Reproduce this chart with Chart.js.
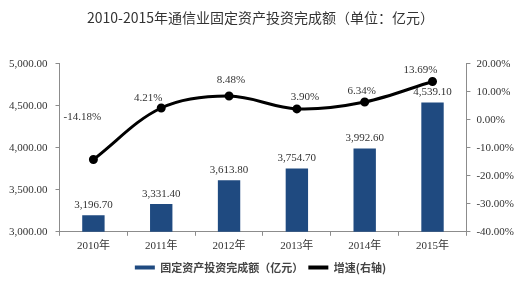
<!DOCTYPE html>
<html>
<head>
<meta charset="utf-8">
<script src="https://cdn.jsdelivr.net/npm/chart.js@4"></script>
<style>
  html, body { margin: 0; padding: 0; background: #fff; }
  #wrap { width: 529px; height: 283px; }
</style>
</head>
<body>
<div id="wrap"><canvas id="c" width="529" height="283"></canvas></div>
<script>
// 数据
var years = ['2010年', '2011年', '2012年', '2013年', '2014年', '2015年'];
var invest = [3196.7, 3331.4, 3613.8, 3754.7, 3992.6, 4539.1];
var growth = [-14.18, 4.21, 8.48, 3.90, 6.34, 13.69];
var leftTicks = [3000, 3500, 4000, 4500, 5000];
var rightTicks = [-40, -30, -20, -10, 0, 10, 20];

var tickFont = { family: "'Liberation Serif', 'Noto Sans CJK SC'", size: 11 };
var axisColor = '#8c8c8c';

function money(v) {
  return v.toLocaleString('en-US', { minimumFractionDigits: 2, maximumFractionDigits: 2 });
}

// 数值标签
var valueLabels = {
  id: 'valueLabels',
  afterDatasetsDraw: function (chart) {
    var ctx = chart.ctx;
    ctx.save();
    ctx.font = "11px 'Liberation Serif'";
    ctx.fillStyle = '#333';
    ctx.textAlign = 'center';
    ctx.textBaseline = 'middle';
    chart.getDatasetMeta(0).data.forEach(function (bar, i) {
      ctx.fillText(money(invest[i]), bar.x, bar.y - 10);
    });
    var shift = [[-11, -42], [-13, -10], [2, -16], [8, -12], [-3, -11], [-12, -11]];
    chart.getDatasetMeta(1).data.forEach(function (pt, i) {
      ctx.fillText(growth[i].toFixed(2) + '%', pt.x + shift[i][0], pt.y + shift[i][1]);
    });
    ctx.restore();
  }
};

new Chart(document.getElementById('c'), {
  type: 'bar',
  data: {
    labels: years,
    datasets: [{
      label: '固定资产投资完成额（亿元）',
      data: invest,
      backgroundColor: '#1f4a80',
      borderWidth: 0,
      barPercentage: 0.33,
      categoryPercentage: 1,
      yAxisID: 'y',
      order: 1
    }, {
      type: 'line',
      label: '增速(右轴)',
      data: growth,
      borderColor: '#000',
      backgroundColor: '#000',
      borderWidth: 3,
      pointRadius: 3,
      pointBackgroundColor: '#000',
      tension: 0.35,
      yAxisID: 'y1',
      order: 0
    }]
  },
  options: {
    responsive: false,
    animation: false,
    layout: { padding: { left: 1, right: 9, top: 0, bottom: 0 } },
    plugins: {
      title: {
        display: true,
        text: '2010-2015年通信业固定资产投资完成额（单位：亿元）',
        font: { family: "'Noto Sans CJK SC'", size: 14, weight: 'normal' },
        color: '#333',
        padding: { top: 9, bottom: 38 }
      },
      legend: {
        position: 'bottom',
        labels: {
          boxWidth: 20,
          boxHeight: 4,
          font: { family: "'Noto Sans CJK SC'", size: 11, weight: 'bold' },
          color: '#444',
          padding: 5,
          sort: function (a, b) { return a.datasetIndex - b.datasetIndex; },
          generateLabels: function (chart) {
            var items = Chart.defaults.plugins.legend.labels.generateLabels(chart);
            items.forEach(function (it) { it.lineWidth = 0; });
            return items;
          }
        }
      },
      tooltip: { enabled: false }
    },
    scales: {
      x: {
        offset: true,
        grid: { drawOnChartArea: false, offset: true, color: axisColor, tickLength: 4 },
        border: { color: axisColor },
        ticks: { font: { family: "'Liberation Serif', 'Noto Sans CJK SC'", size: 11 }, color: '#333', padding: 4 }
      },
      y: {
        position: 'left',
        min: leftTicks[0],
        max: leftTicks[leftTicks.length - 1],
        afterBuildTicks: function (s) { s.ticks = leftTicks.map(function (v) { return { value: v }; }); },
        grid: { drawOnChartArea: false, color: axisColor, tickLength: 4 },
        border: { color: axisColor },
        ticks: { font: tickFont, color: '#333', padding: 8, callback: function (v) { return money(v); } }
      },
      y1: {
        position: 'right',
        min: rightTicks[0],
        max: rightTicks[rightTicks.length - 1],
        afterBuildTicks: function (s) { s.ticks = rightTicks.map(function (v) { return { value: v }; }); },
        grid: { drawOnChartArea: false, color: axisColor, tickLength: 4 },
        border: { color: axisColor },
        ticks: { font: tickFont, color: '#333', padding: 6, callback: function (v) { return v.toFixed(2) + '%'; } }
      }
    }
  },
  plugins: [valueLabels]
});
</script>
</body>
</html>
